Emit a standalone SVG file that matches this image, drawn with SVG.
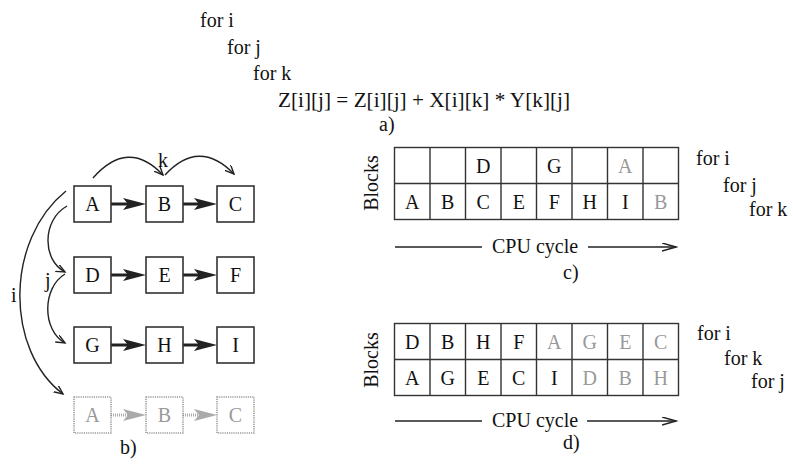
<svg xmlns="http://www.w3.org/2000/svg" width="793" height="464" viewBox="0 0 793 464">
<style>
text{font-family:"Liberation Serif","Times New Roman",serif;font-size:20px;fill:#111}
.c{text-anchor:middle}
.g{fill:#999}
.box{fill:#fff;stroke:#333;stroke-width:1.6}
.dbox{fill:#fff;stroke:#999;stroke-width:1.6;stroke-dasharray:1.2 1}
.cur{fill:none;stroke:#222;stroke-width:1.4}
.th{stroke:#222;stroke-width:3}
.tg{stroke:#aaa;stroke-width:3;stroke-dasharray:1 1}
.grid{fill:none;stroke:#333;stroke-width:1.4}
.ax{stroke:#222;stroke-width:1.4;fill:none}
</style>
<defs>
<marker id="v" markerUnits="userSpaceOnUse" markerWidth="12" markerHeight="12" refX="9" refY="4" orient="auto">
<path d="M0,0 L9,4 L0,8" fill="none" stroke="#222" stroke-width="1.4"/>
</marker>
<marker id="ax" markerUnits="userSpaceOnUse" markerWidth="16" markerHeight="10" refX="14" refY="4" orient="auto">
<path d="M0,0 L14,4 L0,8" fill="none" stroke="#222" stroke-width="1.4"/>
</marker>
</defs>

<g id="code">
<text x="200" y="27">for i</text>
<text x="227" y="54">for j</text>
<text x="253" y="80">for k</text>
<text x="278" y="107" textLength="292" lengthAdjust="spacingAndGlyphs">Z[i][j] = Z[i][j] + X[i][k] * Y[k][j]</text>
<text x="379" y="131">a)</text>
</g>

<g id="connectors">
<path class="cur" d="M93,178 Q128,138 163,175" marker-end="url(#v)"/>
<path class="cur" d="M165,175 Q199,138 234,174" marker-end="url(#v)"/>
<path class="cur" d="M66,191 C5,240 5,350 63,394" marker-end="url(#v)"/>
<path class="cur" d="M67,206 C42,220 42,260 65,272" marker-end="url(#v)"/>
<path class="cur" d="M65,274 C42,288 42,330 65,343" marker-end="url(#v)"/>
<g id="thick">
<line class="th" x1="111" y1="204" x2="128" y2="204"/><path d="M146,204 L123,198 L128,204 L123,210 Z" fill="#222"/>
<line class="th" x1="183" y1="204" x2="199" y2="204"/><path d="M217,204 L194,198 L199,204 L194,210 Z" fill="#222"/>
<line class="th" x1="111" y1="275" x2="128" y2="275"/><path d="M146,275 L123,269 L128,275 L123,281 Z" fill="#222"/>
<line class="th" x1="183" y1="275" x2="199" y2="275"/><path d="M217,275 L194,269 L199,275 L194,281 Z" fill="#222"/>
<line class="th" x1="111" y1="345" x2="128" y2="345"/><path d="M146,345 L123,339 L128,345 L123,351 Z" fill="#222"/>
<line class="th" x1="183" y1="345" x2="199" y2="345"/><path d="M217,345 L194,339 L199,345 L194,351 Z" fill="#222"/>
<line class="tg" x1="111" y1="415" x2="128" y2="415"/><path d="M146,415 L123,409 L128,415 L123,421 Z" fill="#aaa"/>
<line class="tg" x1="183" y1="415" x2="199" y2="415"/><path d="M217,415 L194,409 L199,415 L194,421 Z" fill="#aaa"/>
</g>
<line class="ax" x1="395" y1="247" x2="482" y2="247"/>
<line class="ax" x1="588" y1="247" x2="676" y2="247" marker-end="url(#ax)"/>
<line class="ax" x1="395" y1="421" x2="482" y2="421"/>
<line class="ax" x1="587" y1="421" x2="676" y2="421" marker-end="url(#ax)"/>
</g>

<g id="labels-b">
<text x="158" y="167">k</text>
<text x="45" y="287">j</text>
<text x="11" y="302">i</text>
<text x="120" y="454">b)</text>
</g>

<g id="node-A"><rect class="box" x="74" y="186" width="37" height="36"/><text class="c" x="92.5" y="211">A</text></g>
<g id="node-B"><rect class="box" x="146" y="186" width="37" height="36"/><text class="c" x="164.5" y="211">B</text></g>
<g id="node-C"><rect class="box" x="217" y="186" width="37" height="36"/><text class="c" x="235.5" y="211">C</text></g>
<g id="node-D"><rect class="box" x="74" y="257" width="37" height="36"/><text class="c" x="92.5" y="282">D</text></g>
<g id="node-E"><rect class="box" x="146" y="257" width="37" height="36"/><text class="c" x="164.5" y="282">E</text></g>
<g id="node-F"><rect class="box" x="217" y="257" width="37" height="36"/><text class="c" x="235.5" y="282">F</text></g>
<g id="node-G"><rect class="box" x="74" y="327" width="37" height="36"/><text class="c" x="92.5" y="352">G</text></g>
<g id="node-H"><rect class="box" x="146" y="327" width="37" height="36"/><text class="c" x="164.5" y="352">H</text></g>
<g id="node-I"><rect class="box" x="217" y="327" width="37" height="36"/><text class="c" x="235.5" y="352">I</text></g>
<g id="node-A2"><rect class="dbox" x="74" y="397" width="37" height="36"/><text class="c g" x="92.5" y="422">A</text></g>
<g id="node-B2"><rect class="dbox" x="146" y="397" width="37" height="36"/><text class="c g" x="164.5" y="422">B</text></g>
<g id="node-C2"><rect class="dbox" x="217" y="397" width="37" height="36"/><text class="c g" x="235.5" y="422">C</text></g>

<g id="table-c">
<rect class="grid" x="394.5" y="147.5" width="284" height="72"/>
<path class="grid" d="M394.5,183.5H678.5M430,147.5V219.5M465.5,147.5V219.5M501,147.5V219.5M536.5,147.5V219.5M572,147.5V219.5M607.5,147.5V219.5M643,147.5V219.5"/>
<text class="c" x="483.25" y="172.5">D</text>
<text class="c" x="554.25" y="172.5">G</text>
<text class="c g" x="625.25" y="172.5">A</text>
<text class="c" x="412.25" y="208.5">A</text>
<text class="c" x="447.75" y="208.5">B</text>
<text class="c" x="483.25" y="208.5">C</text>
<text class="c" x="518.75" y="208.5">E</text>
<text class="c" x="554.25" y="208.5">F</text>
<text class="c" x="589.75" y="208.5">H</text>
<text class="c" x="625.25" y="208.5">I</text>
<text class="c g" x="660.75" y="208.5">B</text>
<text class="c" transform="translate(378,183) rotate(-90)">Blocks</text>
<text x="696" y="165">for i</text>
<text x="723" y="192">for j</text>
<text x="749" y="216">for k</text>
<text x="492" y="253">CPU cycle</text>
<text x="563" y="279">c)</text>
</g>

<g id="table-d">
<rect class="grid" x="394.5" y="323.5" width="284" height="72"/>
<path class="grid" d="M394.5,359.5H678.5M430,323.5V395.5M465.5,323.5V395.5M501,323.5V395.5M536.5,323.5V395.5M572,323.5V395.5M607.5,323.5V395.5M643,323.5V395.5"/>
<text class="c" x="412.25" y="348.5">D</text>
<text class="c" x="447.75" y="348.5">B</text>
<text class="c" x="483.25" y="348.5">H</text>
<text class="c" x="518.75" y="348.5">F</text>
<text class="c g" x="554.25" y="348.5">A</text>
<text class="c g" x="589.75" y="348.5">G</text>
<text class="c g" x="625.25" y="348.5">E</text>
<text class="c g" x="660.75" y="348.5">C</text>
<text class="c" x="412.25" y="384.5">A</text>
<text class="c" x="447.75" y="384.5">G</text>
<text class="c" x="483.25" y="384.5">E</text>
<text class="c" x="518.75" y="384.5">C</text>
<text class="c" x="554.25" y="384.5">I</text>
<text class="c g" x="589.75" y="384.5">D</text>
<text class="c g" x="625.25" y="384.5">B</text>
<text class="c g" x="660.75" y="384.5">H</text>
<text class="c" transform="translate(378,360) rotate(-90)">Blocks</text>
<text x="697" y="340">for i</text>
<text x="724" y="365">for k</text>
<text x="751" y="388">for j</text>
<text x="492" y="427">CPU cycle</text>
<text x="563" y="449">d)</text>
</g>
</svg>
